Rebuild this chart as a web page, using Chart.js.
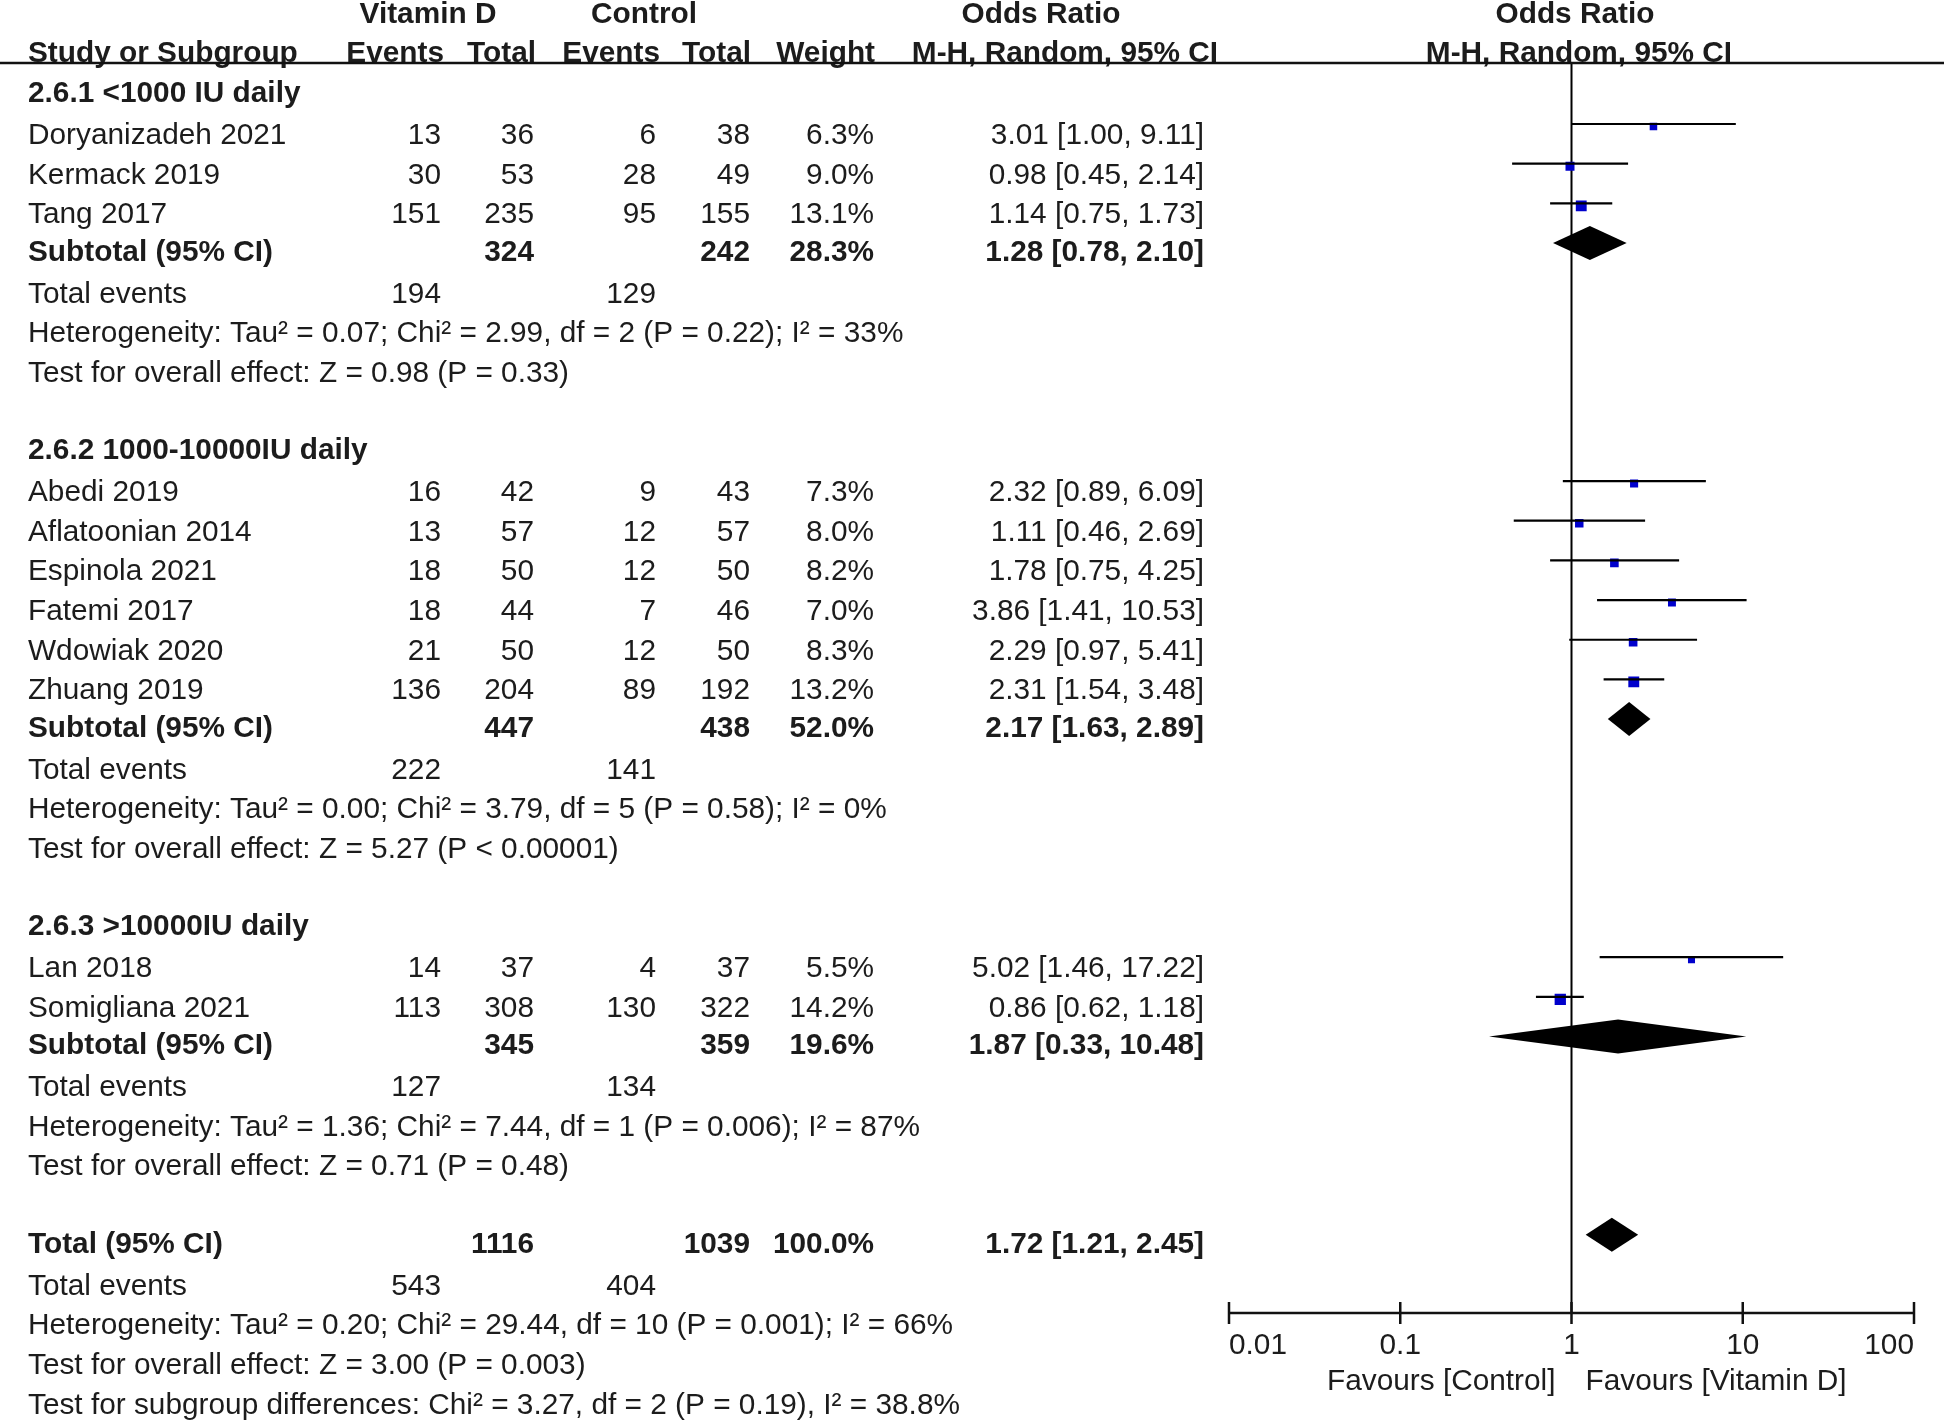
<!DOCTYPE html>
<html>
<head>
<meta charset="utf-8">
<script src="https://cdn.jsdelivr.net/npm/chart.js@4.4.1/dist/chart.umd.min.js"></script>
<style>
  html, body { margin: 0; padding: 0; background: #fff; }
  #forest { display: block; }
</style>
</head>
<body>
<canvas id="forest" width="1944" height="1423" style="width:1944px;height:1423px"></canvas>
<script>
// study level data
const studyNames = ['Doryanizadeh 2021', 'Kermack 2019', 'Tang 2017', 'Abedi 2019', 'Aflatoonian 2014', 'Espinola 2021', 'Fatemi 2017', 'Wdowiak 2020', 'Zhuang 2019', 'Lan 2018', 'Somigliana 2021'];
const studyGroup = [0, 0, 0, 1, 1, 1, 1, 1, 1, 2, 2];
const vitDEvents = [13, 30, 151, 16, 13, 18, 18, 21, 136, 14, 113];
const vitDTotal = [36, 53, 235, 42, 57, 50, 44, 50, 204, 37, 308];
const ctrlEvents = [6, 28, 95, 9, 12, 12, 7, 12, 89, 4, 130];
const ctrlTotal = [38, 49, 155, 43, 57, 50, 46, 50, 192, 37, 322];
const weights = [6.3, 9.0, 13.1, 7.3, 8.0, 8.2, 7.0, 8.3, 13.2, 5.5, 14.2];
const oddsRatio = [3.01, 0.98, 1.14, 2.32, 1.11, 1.78, 3.86, 2.29, 2.31, 5.02, 0.86];
const ciLow = [1.00, 0.45, 0.75, 0.89, 0.46, 0.75, 1.41, 0.97, 1.54, 1.46, 0.62];
const ciHigh = [9.11, 2.14, 1.73, 6.09, 2.69, 4.25, 10.53, 5.41, 3.48, 17.22, 1.18];

// subgroup data
const groupLabels = ['2.6.1 <1000 IU daily', '2.6.2 1000-10000IU daily', '2.6.3 >10000IU daily'];
const subVitDTotal = [324, 447, 345];
const subCtrlTotal = [242, 438, 359];
const subWeight = [28.3, 52.0, 19.6];
const subOR = [1.28, 2.17, 1.87];
const subLow = [0.78, 1.63, 0.33];
const subHigh = [2.10, 2.89, 10.48];
const subVitDEvents = [194, 222, 127];
const subCtrlEvents = [129, 141, 134];
const subHeterogeneity = [
    'Heterogeneity: Tau² = 0.07; Chi² = 2.99, df = 2 (P = 0.22); I² = 33%',
    'Heterogeneity: Tau² = 0.00; Chi² = 3.79, df = 5 (P = 0.58); I² = 0%',
    'Heterogeneity: Tau² = 1.36; Chi² = 7.44, df = 1 (P = 0.006); I² = 87%',
];
const subOverall = [
    'Test for overall effect: Z = 0.98 (P = 0.33)',
    'Test for overall effect: Z = 5.27 (P < 0.00001)',
    'Test for overall effect: Z = 0.71 (P = 0.48)',
];

// overall
const totalCounts = [1116, 1039];
const totalEvents = [543, 404];
const totalWeight = 100.0;
const totalOR = [1.72, 1.21, 2.45];
const totalNotes = [
    'Heterogeneity: Tau² = 0.20; Chi² = 29.44, df = 10 (P = 0.001); I² = 66%',
    'Test for overall effect: Z = 3.00 (P = 0.003)',
    'Test for subgroup differences: Chi² = 3.27, df = 2 (P = 0.19), I² = 38.8%',
];

const axisTicks = [0.01, 0.1, 1, 10, 100];
const axisTickLabels = ['0.01', '0.1', '1', '10', '100'];
const favourLabels = ['Favours [Control]', 'Favours [Vitamin D]'];

// columns (right edges) and fonts
const COL = { name: 28, ve: 441, vt: 534, ce: 656, ct: 750, wt: 874, or: 1204 };
const FONT = '29.8px "Liberation Sans", Arial, sans-serif';
const BOLD = 'bold 29.8px "Liberation Sans", Arial, sans-serif';
const TEXT = '#1c1c1c';

const fmtCI = (o, l, h) => `${o.toFixed(2)} [${l.toFixed(2)}, ${h.toFixed(2)}]`;

// lay out the rows
const textRows = [];
const studyRow = [];
const diamonds = [];
let r = 0;
groupLabels.forEach((label, g) => {
    textRows.push({ row: r, bold: true, cells: [[label, COL.name, 'left']] });
    r++;
    studyNames.forEach((name, i) => {
        if (studyGroup[i] !== g) return;
        studyRow[i] = r;
        textRows.push({ row: r, bold: false, cells: [
            [name, COL.name, 'left'],
            [String(vitDEvents[i]), COL.ve, 'right'],
            [String(vitDTotal[i]), COL.vt, 'right'],
            [String(ctrlEvents[i]), COL.ce, 'right'],
            [String(ctrlTotal[i]), COL.ct, 'right'],
            [weights[i].toFixed(1) + '%', COL.wt, 'right'],
            [fmtCI(oddsRatio[i], ciLow[i], ciHigh[i]), COL.or, 'right'],
        ] });
        r++;
    });
    diamonds.push({ row: r, or: subOR[g], lo: subLow[g], hi: subHigh[g] });
    textRows.push({ row: r, bold: true, cells: [
        ['Subtotal (95% CI)', COL.name, 'left'],
        [String(subVitDTotal[g]), COL.vt, 'right'],
        [String(subCtrlTotal[g]), COL.ct, 'right'],
        [subWeight[g].toFixed(1) + '%', COL.wt, 'right'],
        [fmtCI(subOR[g], subLow[g], subHigh[g]), COL.or, 'right'],
    ] });
    r++;
    textRows.push({ row: r, bold: false, cells: [
        ['Total events', COL.name, 'left'],
        [String(subVitDEvents[g]), COL.ve, 'right'],
        [String(subCtrlEvents[g]), COL.ce, 'right'],
    ] });
    r++;
    textRows.push({ row: r++, bold: false, cells: [[subHeterogeneity[g], COL.name, 'left']] });
    textRows.push({ row: r++, bold: false, cells: [[subOverall[g], COL.name, 'left']] });
    r++;
});
diamonds.push({ row: r, or: totalOR[0], lo: totalOR[1], hi: totalOR[2] });
textRows.push({ row: r++, bold: true, cells: [
    ['Total (95% CI)', COL.name, 'left'],
    [String(totalCounts[0]), COL.vt, 'right'],
    [String(totalCounts[1]), COL.ct, 'right'],
    [totalWeight.toFixed(1) + '%', COL.wt, 'right'],
    [fmtCI(totalOR[0], totalOR[1], totalOR[2]), COL.or, 'right'],
] });
textRows.push({ row: r++, bold: false, cells: [
    ['Total events', COL.name, 'left'],
    [String(totalEvents[0]), COL.ve, 'right'],
    [String(totalEvents[1]), COL.ce, 'right'],
] });
totalNotes.forEach(t => textRows.push({ row: r++, bold: false, cells: [[t, COL.name, 'left']] }));

// datasets
const ciPoints = [];
studyNames.forEach((n, i) => {
    ciPoints.push({ x: ciLow[i], y: studyRow[i] }, { x: ciHigh[i], y: studyRow[i] }, { x: 1, y: null });
});
const squarePoints = studyNames.map((n, i) => ({ x: oddsRatio[i], y: studyRow[i] }));
const squareRadius = weights.map(w => 3.0 * Math.sqrt(w) / Math.SQRT2);

function text(ctx, str, x, y, align, font) {
    ctx.font = font;
    ctx.textAlign = align;
    ctx.textBaseline = 'alphabetic';
    ctx.fillStyle = TEXT;
    ctx.fillText(str, x, y);
}

const forestPlugin = {
    id: 'forest',
    beforeDatasetsDraw(chart) {
        const { ctx, chartArea, scales: { x } } = chart;
        const x1 = x.getPixelForValue(1);
        ctx.save();
        ctx.strokeStyle = '#000';
        ctx.lineWidth = 2;
        ctx.beginPath();
        ctx.moveTo(x1, chartArea.top);
        ctx.lineTo(x1, chartArea.bottom);
        ctx.stroke();
        ctx.restore();
    },
    // the squares sit a little below their CI line, as in RevMan
    beforeDatasetDraw(chart, args) {
        if (args.index === 1) {
            chart.ctx.save();
            chart.ctx.translate(0, 2.5);
        }
    },
    afterDatasetDraw(chart, args) {
        if (args.index === 1) chart.ctx.restore();
    },
    afterDraw(chart) {
        const { ctx, chartArea, scales: { x, y } } = chart;
        ctx.save();

        // header
        text(ctx, 'Vitamin D', 428, 23, 'center', BOLD);
        text(ctx, 'Control', 644, 23, 'center', BOLD);
        text(ctx, 'Odds Ratio', 1041, 23, 'center', BOLD);
        text(ctx, 'Odds Ratio', 1575, 23, 'center', BOLD);
        text(ctx, 'Study or Subgroup', COL.name, 62, 'left', BOLD);
        text(ctx, 'Events', 444, 62, 'right', BOLD);
        text(ctx, 'Total', 536, 62, 'right', BOLD);
        text(ctx, 'Events', 660, 62, 'right', BOLD);
        text(ctx, 'Total', 751, 62, 'right', BOLD);
        text(ctx, 'Weight', 875, 62, 'right', BOLD);
        text(ctx, 'M-H, Random, 95% CI', 1065, 62, 'center', BOLD);
        text(ctx, 'M-H, Random, 95% CI', 1579, 62, 'center', BOLD);
        ctx.strokeStyle = '#111';
        ctx.lineWidth = 2.5;
        ctx.beginPath();
        ctx.moveTo(0, chartArea.top);
        ctx.lineTo(chart.width, chartArea.top);
        ctx.stroke();

        // table text
        textRows.forEach(row => {
            const base = y.getPixelForValue(row.row) + (row.bold ? 18 : 20);
            row.cells.forEach(([s, cx, al]) => text(ctx, s, cx, base, al, row.bold ? BOLD : FONT));
        });

        // diamonds
        ctx.fillStyle = '#000';
        diamonds.forEach(d => {
            const cy = y.getPixelForValue(d.row);
            ctx.beginPath();
            ctx.moveTo(x.getPixelForValue(d.lo), cy);
            ctx.lineTo(x.getPixelForValue(d.or), cy - 17);
            ctx.lineTo(x.getPixelForValue(d.hi), cy);
            ctx.lineTo(x.getPixelForValue(d.or), cy + 17);
            ctx.closePath();
            ctx.fill();
        });

        // x axis
        const ay = chartArea.bottom;
        ctx.strokeStyle = '#111';
        ctx.lineWidth = 2.5;
        ctx.beginPath();
        ctx.moveTo(x.getPixelForValue(axisTicks[0]), ay);
        ctx.lineTo(x.getPixelForValue(axisTicks[axisTicks.length - 1]), ay);
        axisTicks.forEach(t => {
            const px = x.getPixelForValue(t);
            ctx.moveTo(px, ay - 11);
            ctx.lineTo(px, ay + 11);
        });
        ctx.stroke();
        axisTicks.forEach((t, i) => {
            const px = x.getPixelForValue(t);
            const al = i === 0 ? 'left' : (i === axisTicks.length - 1 ? 'right' : 'center');
            text(ctx, axisTickLabels[i], px, ay + 41, al, FONT);
        });
        const x1 = x.getPixelForValue(1);
        text(ctx, favourLabels[0], x1 - 16, ay + 77, 'right', FONT);
        text(ctx, favourLabels[1], x1 + 14, ay + 77, 'left', FONT);

        ctx.restore();
    }
};

new Chart(document.getElementById('forest'), {
    type: 'scatter',
    data: {
        datasets: [
            {
                type: 'line',
                data: ciPoints,
                borderColor: '#000',
                borderWidth: 2.2,
                pointRadius: 0,
                spanGaps: false,
                tension: 0,
            },
            {
                type: 'scatter',
                data: squarePoints,
                pointStyle: 'rect',
                pointRadius: squareRadius,
                backgroundColor: '#0000cc',
                borderColor: '#0000cc',
                borderWidth: 0,
            },
        ],
    },
    options: {
        responsive: false,
        animation: false,
        devicePixelRatio: 1,
        layout: { padding: { left: 1229, right: 30, top: 63, bottom: 110 } },
        scales: {
            x: { type: 'logarithmic', min: 0.01, max: 100, display: false },
            y: { type: 'linear', min: -0.537, max: 30.97, reverse: true, display: false },
        },
        plugins: {
            legend: { display: false },
            tooltip: { enabled: false },
        },
    },
    plugins: [forestPlugin],
});
</script>
</body>
</html>
